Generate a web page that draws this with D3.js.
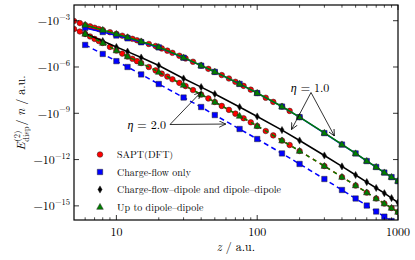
<!DOCTYPE html>
<html><head><meta charset="utf-8">
<script src="https://cdn.jsdelivr.net/npm/d3@7"></script>
<style>
body{margin:0;background:#fff}
svg{display:block}
</style>
</head><body>
<svg id="c" width="415" height="260"></svg>
<script>
// ---------------- data ----------------
const zModel = [6, 8, 10, 12, 15, 20, 30, 40, 50, 75, 100, 150, 200, 300, 400, 500, 600, 700, 800, 900, 1000];
// eta = 1.0
const upToDD_eta1 = [-5.3e-4, -2.5e-4, -1.37e-4, -8.4e-5, -4.5e-5, -1.97e-5, -4.1e-6, -1.25e-6, -4.9e-7, -8.1e-8, -2.06e-8, -2.75e-9, -5.7e-10, -5.3e-11, -9.5e-12, -2.5e-12, -8.1e-13, -3.3e-13, -1.45e-13, -7.4e-14, -4.1e-14];
const chargeFlow_eta1 = [-3.4e-4, -1.85e-4, -1.1e-4, -7.2e-5, -4.0e-5, -1.86e-5, -4.0e-6, -1.22e-6, -4.8e-7, -8.0e-8, -2.03e-8, -2.72e-9, -5.6e-10, -5.2e-11, -9.4e-12, -2.5e-12, -8.0e-13, -3.3e-13, -1.44e-13, -7.3e-14, -4.0e-14];
const cfdDD_eta1 = [-1.48e-4, -4.8e-5, -1.97e-5, -1.0e-5, -4.1e-6, -1.25e-6, -1.8e-7, -5.0e-8, -1.78e-8, -2.55e-9, -6.2e-10, -8.2e-11, -1.72e-11, -1.84e-12, -3.6e-13, -1.0e-13, -3.5e-14, -1.44e-14, -6.6e-15, -3.2e-15, -1.65e-15];
// eta = 2.0
const upToDD_eta2 = [-1.4e-4, -3.6e-5, -1.17e-5, -4.8e-6, -1.8e-6, -4.7e-7, -6.8e-8, -1.65e-8, -5.4e-9, -6.7e-10, -1.5e-10, -1.72e-11, -3.6e-12, -3.8e-13, -7.4e-14, -2.1e-14, -7.3e-15, -3.0e-15, -1.42e-15, -7.3e-16, -4.0e-16];
const chargeFlow_eta2 = [-2.7e-5, -7.0e-6, -2.4e-6, -1.0e-6, -3.3e-7, -7.9e-8, -1.05e-8, -2.55e-9, -7.7e-10, -9.6e-11, -2.15e-11, -2.5e-12, -5.2e-13, -5.5e-14, -1.07e-14, -3.0e-15, -1.05e-15, -4.3e-16, -2.0e-16, -1.04e-16, -5.8e-17];
// SAPT(DFT)
const zSapt1 = [5, 5.5, 6, 6.5, 7, 7.5, 8, 9, 10, 11, 12, 13, 14, 15, 17, 19, 21, 23, 25, 28, 31, 35, 40, 45, 50, 56, 63, 70, 80, 90, 100, 115, 130, 150, 170, 200];
const sapt_eta1 = [-9.6e-4, -7.0e-4, -5.3e-4, -4.3e-4, -3.5e-4, -2.9e-4, -2.5e-4, -1.8e-4, -1.4e-4, -1.07e-4, -8.4e-5, -6.7e-5, -5.4e-5, -4.5e-5, -3.1e-5, -2.3e-5, -1.6e-5, -1.15e-5, -8.3e-6, -5.4e-6, -3.6e-6, -2.2e-6, -1.25e-6, -7.6e-7, -4.9e-7, -3.0e-7, -1.8e-7, -1.1e-7, -6.0e-8, -3.4e-8, -2.1e-8, -1.02e-8, -5.5e-9, -2.75e-9, -1.43e-9, -5.7e-10];
const zSapt2 = [5, 5.5, 6, 6.5, 7, 7.5, 8, 9, 10, 11, 12, 13, 14, 15, 17, 19, 21, 23, 25, 28, 31, 35, 40, 45, 50, 56, 63, 70, 80, 90, 100, 115, 130, 150, 170, 200, 300, 400, 500, 600, 700, 800, 900, 1000];
const sapt_eta2 = [-2.9e-4, -2.0e-4, -1.4e-4, -9.5e-5, -6.6e-5, -4.8e-5, -3.6e-5, -2.0e-5, -1.17e-5, -7.4e-6, -4.8e-6, -3.4e-6, -2.4e-6, -1.8e-6, -1.0e-6, -6.0e-7, -3.7e-7, -2.4e-7, -1.6e-7, -9.4e-8, -5.8e-8, -3.2e-8, -1.65e-8, -9.2e-9, -5.4e-9, -3.0e-9, -1.66e-9, -9.5e-10, -4.8e-10, -2.6e-10, -1.5e-10, -7.1e-11, -3.7e-11, -1.72e-11, -8.8e-12, -3.6e-12, -3.8e-13, -7.4e-14, -2.1e-14, -7.3e-15, -3.0e-15, -1.42e-15, -7.3e-16, -4.0e-16];

const xMajor = [10, 100, 1000];
const xMinor = [6, 7, 8, 9, 20, 30, 40, 50, 60, 70, 80, 90, 200, 300, 400, 500, 600, 700, 800, 900];
const yTickExp = [-3, -6, -9, -12, -15];
const legendLabels = ["SAPT(DFT)", "Charge-flow only", "Charge-flow\u2013dipole and dipole\u2013dipole", "Up to dipole\u2013dipole"];

// ---------------- layout ----------------
const L = 74, R = 398, T = 5, B = 220;
const FONT = '"Latin Modern Roman"';
const svg = d3.select("#c");
const x = d3.scaleLog().domain([5, 1000]).range([L, R]);
const y = d3.scaleLog().domain([Math.pow(10, -1.982), Math.pow(10, -15.916)]).range([T, B]);
const Y = v => y(-v);
const txt = (sel) => sel.append("text").style("font-family", FONT).attr("fill", "#000");

const defs = svg.append("defs");
defs.append("clipPath").attr("id", "clip")
  .append("rect").attr("x", L).attr("y", T).attr("width", R - L).attr("height", B - T);

const sym = {
  circle: "M2.8,0A2.8,2.8,0,1,1,-2.8,0A2.8,2.8,0,1,1,2.8,0Z",
  square: "M-2.7,-2.7H2.7V2.7H-2.7Z",
  diamond: "M0,-3.6L2.1,0L0,3.6L-2.1,0Z",
  triangle: "M0,-3.6L3.3,2.3L-3.3,2.3Z"
};
const RED = "#ff0000", BLUE = "#0000ff", GREEN = "#008000", BLACK = "#000000";

const plot = svg.append("g").attr("clip-path", "url(#clip)");

function line(zs, vs, color, dash, offset) {
  const gen = d3.line().x((d, i) => x(zs[i])).y(d => Y(d));
  plot.append("path").datum(vs).attr("d", gen)
    .attr("fill", "none").attr("stroke", color).attr("stroke-width", 1.5)
    .attr("stroke-dasharray", dash || null).attr("stroke-dashoffset", offset || 0);
}
function markers(zs, vs, shape, color) {
  plot.append("g").selectAll("path").data(vs).join("path")
    .attr("d", sym[shape])
    .attr("transform", (d, i) => `translate(${x(zs[i])},${Y(d)})`)
    .attr("fill", color).attr("stroke", "#222").attr("stroke-width", 0.5);
}

// SAPT
line(zSapt2, sapt_eta2, RED, "4,4", 0);
markers(zSapt1, sapt_eta1, "circle", RED);
markers(zSapt2, sapt_eta2, "circle", RED);
// Charge-flow only
line(zModel, chargeFlow_eta1, BLUE);
line(zModel, chargeFlow_eta2, BLUE, "5,3.5");
markers(zModel, chargeFlow_eta1, "square", BLUE);
markers(zModel, chargeFlow_eta2, "square", BLUE);
// Charge-flow-dipole and dipole-dipole
line(zModel, cfdDD_eta1, BLACK);
markers(zModel, cfdDD_eta1, "diamond", BLACK);
// Up to dipole-dipole
line(zModel, upToDD_eta1, GREEN);
line(zModel, upToDD_eta2, GREEN, "4,4", 4);
markers(zModel, upToDD_eta1, "triangle", GREEN);
markers(zModel, upToDD_eta2, "triangle", GREEN);

// ---------------- axes ----------------
const ax = svg.append("g");
function xTicks(yPos, dir) {
  ax.selectAll(null).data(xMajor).join("line")
    .attr("x1", d => x(d)).attr("x2", d => x(d)).attr("y1", yPos).attr("y2", yPos + dir * 5)
    .attr("stroke", "#000").attr("stroke-width", 0.8);
  ax.selectAll(null).data(xMinor).join("line")
    .attr("x1", d => x(d)).attr("x2", d => x(d)).attr("y1", yPos).attr("y2", yPos + dir * 2.7)
    .attr("stroke", "#000").attr("stroke-width", 0.7);
}
xTicks(B, -1); xTicks(T, 1);
function yTicks(xPos, dir) {
  ax.selectAll(null).data(yTickExp).join("line")
    .attr("x1", xPos).attr("x2", xPos + dir * 5)
    .attr("y1", d => y(Math.pow(10, d))).attr("y2", d => y(Math.pow(10, d)))
    .attr("stroke", "#000").attr("stroke-width", 0.8);
}
yTicks(L, 1); yTicks(R, -1);
ax.append("rect").attr("x", L).attr("y", T).attr("width", R - L).attr("height", B - T)
  .attr("fill", "none").attr("stroke", "#000").attr("stroke-width", 1.2);

xMajor.forEach(v => {
  txt(ax).attr("x", x(v)).attr("y", 236).attr("text-anchor", "middle").attr("font-size", 12).text(v);
});

yTickExp.forEach(e => {
  const t = txt(ax).attr("x", 70).attr("y", y(Math.pow(10, e)) + 4.5)
    .attr("text-anchor", "end").attr("font-size", 12);
  t.append("tspan").text("\u221210");
  t.append("tspan").attr("dy", -5.5).attr("font-size", 8.5).text("\u2212" + (-e));
});

// x label
const xl = txt(svg).attr("x", (L + R) / 2).attr("y", 251).attr("text-anchor", "middle").attr("font-size", 12);
xl.append("tspan").attr("font-style", "italic").text("z");
xl.append("tspan").text(" / a.u.");

// y label (rotated)
const yl = svg.append("g").attr("transform", "translate(25,113) rotate(-90)");
const parts = yl.append("g");
let cx = 0;
const e1 = txt(parts).attr("x", cx).attr("y", 0).attr("font-size", 12).attr("font-style", "italic").text("E");
cx += e1.node().getComputedTextLength() + 0.8;
const sp = txt(parts).attr("x", cx).attr("y", -5).attr("font-size", 8.5).text("(2)");
const sb = txt(parts).attr("x", cx).attr("y", 3.5).attr("font-size", 8.5).text("disp");
cx += Math.max(sp.node().getComputedTextLength(), sb.node().getComputedTextLength()) + 1;
const rest = txt(parts).attr("x", cx).attr("y", 0).attr("font-size", 12);
rest.append("tspan").text(" / ");
rest.append("tspan").attr("font-style", "italic").text("n");
rest.append("tspan").text(" / a.u.");
cx += rest.node().getComputedTextLength();
parts.attr("transform", `translate(${-cx / 2},0)`);

// ---------------- legend ----------------
const legShapes = ["circle", "square", "diamond", "triangle"];
const legColors = [RED, BLUE, BLACK, GREEN];
const leg = svg.append("g");
legendLabels.forEach((lab, i) => {
  const yy = 154.5 + i * 17.5;
  leg.append("path").attr("d", sym[legShapes[i]]).attr("transform", `translate(100,${yy})`)
    .attr("fill", legColors[i]).attr("stroke", "#222").attr("stroke-width", 0.5);
  txt(leg).attr("x", 117).attr("y", yy + 3.6).attr("font-size", 10).text(lab);
});

// ---------------- annotations ----------------
defs.append("marker").attr("id", "ah").attr("viewBox", "0 0 10 10").attr("refX", 9.5).attr("refY", 5)
  .attr("markerWidth", 7).attr("markerHeight", 7).attr("markerUnits", "userSpaceOnUse").attr("orient", "auto")
  .append("path").attr("d", "M0,0.5L9.5,5L0,9.5").attr("fill", "none").attr("stroke", "#000").attr("stroke-width", 1.1);

function annot(label, tx, ty, anchor, from, targets) {
  const t = txt(svg).attr("x", tx).attr("y", ty).attr("text-anchor", anchor).attr("font-size", 12);
  t.append("tspan").attr("font-style", "italic").text("\u03b7");
  t.append("tspan").text(" = " + label);
  targets.forEach(p => {
    svg.append("line").attr("x1", from[0]).attr("y1", from[1]).attr("x2", p[0]).attr("y2", p[1])
      .attr("stroke", "#000").attr("stroke-width", 0.8).attr("marker-end", "url(#ah)");
  });
}
annot("2.0", 166, 128.5, "end", [170, 124.5], [[x(40), Y(upToDD_eta2[7]) - 2.5], [x(50) + 11, Y(chargeFlow_eta2[8]) + 9]]);
annot("1.0", 310, 92, "middle", [311, 92.5], [[x(150) + 9.5, Y(cfdDD_eta1[11]) - 0.5], [x(300) + 10, Y(upToDD_eta1[13]) + 3]]);
</script>
</body></html>
